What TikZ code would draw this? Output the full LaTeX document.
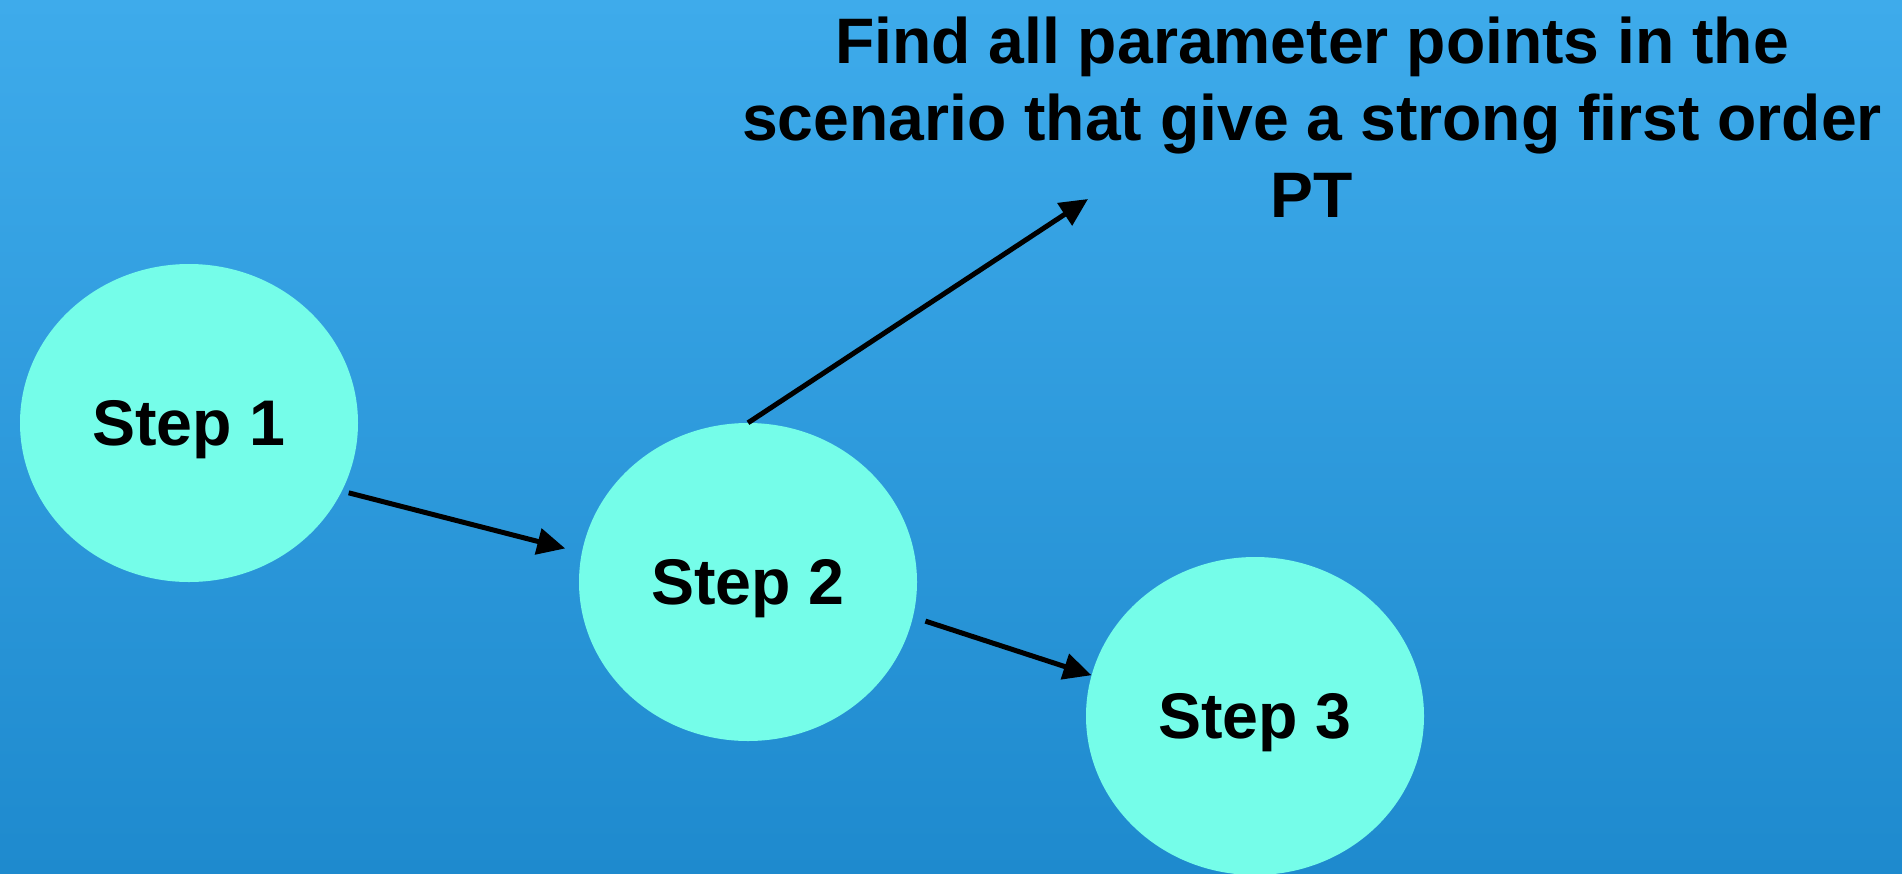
\documentclass[tikz,border=0pt]{standalone}
\usepackage{fontspec}
\setmainfont{Liberation Sans}
\usetikzlibrary{arrows.meta,shapes.geometric}

\definecolor{skytop}{RGB}{62,171,235}
\definecolor{skybottom}{RGB}{30,138,206}
\definecolor{stepfill}{RGB}{117,253,233}

\tikzset{
  stepnode/.style={ellipse, fill=stepfill, minimum width=338pt, minimum height=318pt,
    inner sep=0pt, text depth=0pt, font=\bfseries\fontsize{64.5}{78}\selectfont},
  flow/.style={line width=5pt, -{Triangle[length=28pt,width=26pt]}},
}

\begin{document}
\begin{tikzpicture}[x=1pt,y=-1pt]
  % backdrop with vertical gradient
  \shade[top color=skytop, bottom color=skybottom] (0,0) rectangle (1902,873);
  \useasboundingbox (0,0) rectangle (1902,873);

  % process steps
  \node[stepnode] (s1) at (189,423) {Step 1};
  \node[stepnode] (s2) at (748,582) {Step 2};
  \node[stepnode] (s3) at (1255,716) {Step 3};

  % goal statement
  \node[align=center, inner sep=0pt, anchor=north,
        font=\bfseries\fontsize{64.3}{77}\selectfont] (goal) at (1312,17)
    {Find all parameter points in the\\scenario that give a strong first order\\PT};
  \coordinate (goaltip) at (1088,199);

  % connectors
  \draw[flow, shorten <=7pt, shorten >=17pt] (s1.-24) -- (s2.170);
  \draw[flow, shorten <=13pt] (s2.-12) -- (s3.166);
  \draw[flow] (s2.north) -- (goaltip);
\end{tikzpicture}
\end{document}
